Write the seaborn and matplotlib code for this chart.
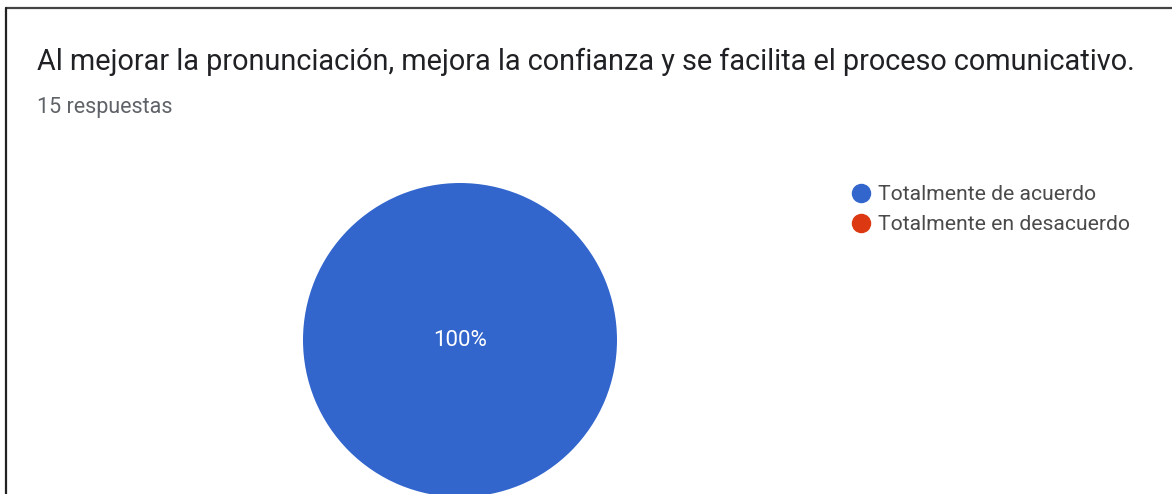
import seaborn as sns
import matplotlib.pyplot as plt
from matplotlib.lines import Line2D

sns.set_theme(style="white")
plt.rcParams['font.family'] = ['Roboto', 'DejaVu Sans']

title = "Al mejorar la pronunciación, mejora la confianza y se facilita el proceso comunicativo."
subtitle = "15 respuestas"
labels = ["Totalmente de acuerdo", "Totalmente en desacuerdo"]
values = [15, 0]
colors = ["#3366CC", "#DC3912"]

W, H = 1172, 494
fig = plt.figure(figsize=(W / 100, H / 100), dpi=100)
fig.patch.set_facecolor("white")

# pie axes, centre ~ (460, 340) px, radius ~157 px
size = 320
ax = fig.add_axes([(460 - size / 2) / W, (H - 340 - size / 2) / H, size / W, size / H])
ax.pie(values, colors=colors, radius=157 / 160, startangle=90, counterclock=False,
       autopct=lambda p: f"{p:.0f}%" if p > 0 else "", pctdistance=0,
       textprops=dict(color="white", fontsize=16),
       wedgeprops=dict(linewidth=0))
ax.set_xlim(-1, 1)
ax.set_ylim(-1, 1)
ax.set_aspect("equal")
ax.axis("off")

# titles
fig.text(37 / W, 1 - 62 / H, title, fontsize=20.8, color="#202124", va="center", ha="left")
fig.text(37 / W, 1 - 107 / H, subtitle, fontsize=15.5, color="#5f6368", va="center", ha="left")

# legend
handles = [Line2D([], [], marker="o", linestyle="", markersize=13, markerfacecolor=c,
                  markeredgecolor=c) for c in colors]
fig.legend(handles, labels, loc="upper left", bbox_to_anchor=(851 / W, 1 - 185 / H),
           frameon=False, fontsize=15.2, labelcolor="#4a4a4a", handletextpad=0.4,
           labelspacing=0.52, handlelength=0.9, borderaxespad=0, borderpad=0)

# card border (top and left edges visible in the screenshot)
fig.add_artist(Line2D([6 / W, 1], [1 - 8.5 / H, 1 - 8.5 / H], color="#444444", lw=1.6))
fig.add_artist(Line2D([6 / W, 6 / W], [0, 1 - 8.5 / H], color="#222222", lw=1.6))

fig.savefig("out.png", dpi=100, facecolor="white")
